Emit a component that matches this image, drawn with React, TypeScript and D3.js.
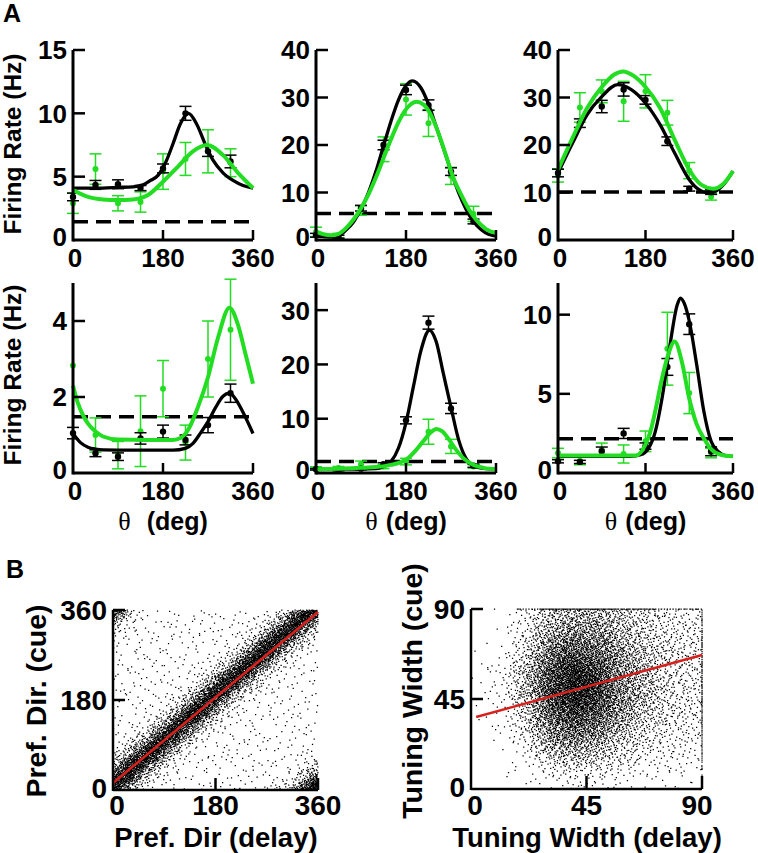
import React, { useMemo } from 'react';
import * as d3 from 'd3';

const FONT = "'Liberation Sans', Arial, Helvetica, sans-serif";
const GREEN = '#22dd22';
const RED = '#d8201c';

// ---------- panel A data ----------
const THETA = [0, 45, 90, 135, 180, 225, 270, 315];
const X_TICKS_A = [0, 180, 360];

const p1BlackMean = [3.4, 4.35, 4.4, 4.1, 5.65, 10.0, 7.0, 6.2];
const p1BlackSem = [0.3, 0.35, 0.35, 0.2, 0.35, 0.55, 0.4, 0.5];
const p1GreenMean = [2.9, 5.6, 2.9, 3.0, 5.4, 6.4, 7.0, 6.1];
const p1GreenSem = [0.8, 1.2, 0.6, 0.8, 1.4, 1.3, 1.7, 1.1];
const p1BlackFit = [[0, 4.1], [30, 4.1], [60, 4.1], [90, 4.15], [120, 4.2], [140, 4.35], [155, 4.7], [170, 5.1], [185, 6.1], [200, 7.6], [215, 9.2], [231, 10.0], [248, 9.1], [265, 7.5], [280, 6.3], [300, 5.3], [320, 4.7], [340, 4.3], [360, 4.1]];
const p1GreenFit = [[0, 3.95], [30, 3.4], [60, 3.2], [90, 3.15], [120, 3.2], [150, 3.55], [180, 4.6], [210, 5.8], [240, 7.0], [268, 7.5], [300, 6.7], [330, 5.3], [360, 4.1]];

const p2BlackMean = [1.0, 0.7, 6.7, 20.0, 31.6, 28.4, 14.4, 3.9];
const p2BlackSem = [0.4, 0.3, 0.6, 1.0, 1.0, 1.1, 0.8, 0.5];
const p2GreenMean = [1.7, 0.9, 6.2, 19.1, 29.6, 24.6, 13.5, 5.5];
const p2GreenSem = [1.0, 0.5, 1.0, 2.6, 3.3, 2.8, 1.8, 1.6];
const p2BlackFit = [[0, 1.05], [15, 0.7], [30, 0.6], [45, 0.9], [60, 2.1], [75, 3.8], [90, 6.5], [105, 10.0], [120, 14.5], [135, 19.8], [150, 25.0], [165, 29.5], [180, 32.5], [193, 33.5], [210, 32.0], [225, 28.6], [240, 24.0], [255, 19.3], [270, 14.5], [285, 10.0], [300, 6.5], [315, 3.9], [330, 2.2], [345, 1.2], [360, 0.8]];
const p2GreenFit = [[0, 1.75], [15, 1.2], [30, 1.0], [45, 1.3], [60, 2.5], [75, 4.3], [90, 6.7], [105, 9.6], [120, 13.2], [135, 17.2], [150, 21.2], [165, 24.8], [180, 27.5], [201, 29.1], [215, 28.5], [230, 26.3], [245, 22.5], [260, 17.8], [275, 13.0], [290, 9.6], [305, 6.6], [320, 4.3], [340, 2.3], [360, 1.5]];

const p3BlackMean = [14.1, 24.6, 28.1, 31.7, 29.5, 20.8, 10.8, 10.1];
const p3BlackSem = [0.8, 0.9, 1.3, 1.4, 0.9, 0.9, 0.5, 0.5];
const p3GreenMean = [13.6, 27.9, 31.3, 29.2, 31.3, 26.8, 14.6, 9.1];
const p3GreenSem = [1.4, 3.1, 2.4, 4.2, 3.5, 2.6, 1.7, 0.7];
const p3BlackFit = [[0, 14.1], [30, 20.4], [60, 26.4], [90, 30.2], [123, 32.7], [150, 31.7], [180, 28.8], [210, 24.3], [240, 18.3], [270, 12.7], [290, 10.6], [305, 10.0], [320, 10.1], [340, 11.6], [360, 14.5]];
const p3GreenFit = [[0, 14.8], [30, 21.5], [60, 27.8], [90, 32.2], [115, 34.8], [134, 35.5], [155, 34.6], [180, 32.2], [210, 27.8], [240, 21.1], [270, 14.8], [295, 11.6], [319, 10.8], [340, 11.8], [360, 14.5]];

const p4BlackMean = [1.05, 0.52, 0.43, 0.91, 1.09, 0.87, 1.26, 2.1];
const p4BlackSem = [0.15, 0.09, 0.1, 0.15, 0.17, 0.13, 0.2, 0.24];
const p4GreenMean = [2.83, 1.0, 0.47, 1.1, 2.22, 0.8, 3.0, 3.77];
const p4GreenSem = [0, 0.45, 0.36, 0.93, 0.74, 0.46, 1.0, 1.33];
const p4BlackFit = [[0, 1.04], [15, 0.8], [30, 0.68], [45, 0.63], [60, 0.61], [120, 0.6], [200, 0.6], [225, 0.65], [240, 0.78], [255, 1.05], [270, 1.35], [285, 1.72], [300, 2.02], [313, 2.1], [325, 1.95], [340, 1.6], [360, 1.04]];
const p4GreenFit = [[0, 2.3], [10, 1.83], [20, 1.52], [30, 1.3], [45, 1.09], [60, 0.96], [90, 0.88], [150, 0.87], [200, 0.87], [215, 0.92], [230, 1.13], [250, 1.74], [270, 2.52], [290, 3.56], [313, 4.35], [330, 3.9], [345, 3.13], [360, 2.35]];

const p5BlackMean = [0.7, 0.55, 0.8, 1.6, 9.7, 27.7, 11.9, 1.35];
const p5BlackSem = [0.15, 0.15, 0.2, 0.3, 0.65, 1.2, 0.95, 0.3];
const p5GreenMean = [0.85, 0.9, 1.6, 1.2, 2.1, 7.6, 4.9, 1.2];
const p5GreenSem = [0.3, 0.3, 0.6, 0.4, 0.6, 2.3, 1.3, 0.3];
const p5BlackFit = [[0, 0.7], [60, 0.7], [120, 0.8], [135, 1.2], [150, 2.1], [165, 4.6], [180, 9.3], [195, 16.0], [210, 22.6], [227, 26.3], [240, 24.3], [255, 18.2], [270, 12.1], [285, 6.2], [300, 2.7], [320, 1.1], [340, 0.8], [360, 0.72]];
const p5GreenFit = [[0, 0.7], [45, 0.8], [90, 0.95], [120, 1.1], [150, 1.5], [170, 2.0], [185, 2.8], [200, 4.2], [215, 5.9], [230, 7.5], [241, 8.1], [252, 7.7], [265, 6.3], [280, 4.3], [295, 2.7], [315, 1.5], [335, 0.95], [360, 0.7]];

const p6BlackMean = [0.74, 0.7, 1.37, 2.5, 1.7, 6.7, 9.4, 1.37];
const p6BlackSem = [0.1, 0.1, 0.27, 0.32, 0.2, 0.53, 0.65, 0.28];
const p6GreenMean = [1.26, 0.78, 1.47, 1.2, 2.0, 7.85, 5.05, 1.26];
const p6GreenSem = [0.3, 0.26, 0.42, 0.57, 0.65, 2.3, 1.3, 0.3];
const p6BlackFit = [[0, 1.05], [150, 1.05], [170, 1.15], [185, 1.5], [200, 2.6], [215, 4.9], [230, 8.0], [245, 10.6], [252, 11.05], [260, 10.7], [270, 9.6], [285, 6.9], [300, 3.9], [315, 2.0], [330, 1.35], [345, 1.1], [360, 1.05]];
const p6GreenFit = [[0, 1.1], [160, 1.1], [180, 1.8], [190, 2.6], [200, 3.9], [212, 5.7], [225, 7.3], [240, 8.3], [255, 7.0], [270, 4.7], [285, 3.1], [300, 2.2], [315, 1.5], [335, 1.15], [360, 1.05]];

const baselines = [1.45, 5.6, 10.1, 1.48, 2.1, 2.17];
const yMaxes = [15, 40, 40, 5, 35, 12];
const yTickSets = [[0, 5, 10, 15], [0, 10, 20, 30, 40], [0, 10, 20, 30, 40], [0, 2, 4], [0, 10, 20, 30], [0, 5, 10]];

// ---------- panel B data ----------
// left: counts per 10 deg bin of (cue - delay) offset, bins centred at -175..175
const offsetCounts = [
  20, 20, 20, 20, 20, 20, 20, 20, 20, 20, 25, 35, 55, 90, 150, 260, 480, 780, 1000,
  1000, 780, 480, 260, 150, 90, 55, 35, 25, 20, 20, 20, 20, 20, 20, 20, 20,
];
const prefFit = [[0, 14], [360, 356]];

// right: counts per 9x9 deg cell, rows from top (81-90) to bottom (0-9)
const widthGrid = [
  [0, 2, 25, 80, 100, 95, 68, 45, 32, 25],
  [0, 4, 38, 115, 160, 140, 90, 55, 38, 30],
  [1, 8, 55, 175, 250, 200, 120, 68, 42, 32],
  [3, 15, 80, 240, 360, 270, 145, 78, 45, 32],
  [4, 18, 90, 280, 400, 300, 155, 80, 46, 30],
  [3, 14, 72, 235, 330, 240, 130, 70, 40, 28],
  [1, 8, 48, 180, 240, 170, 95, 52, 32, 25],
  [0, 3, 25, 105, 130, 100, 60, 36, 25, 20],
  [0, 1, 10, 45, 60, 48, 32, 20, 15, 12],
  [0, 0, 3, 10, 15, 12, 8, 6, 5, 4],
];
const topEdgeCounts = [0, 1, 10, 18, 20, 20, 18, 16, 14, 12];
const rightEdgeCounts = [5, 8, 12, 14, 15, 15, 14, 12, 12, 10];
const widthFit = [[2, 36], [90, 67]];

const panels = [
  { bm: p1BlackMean, bs: p1BlackSem, gm: p1GreenMean, gs: p1GreenSem, bf: p1BlackFit, gf: p1GreenFit },
  { bm: p2BlackMean, bs: p2BlackSem, gm: p2GreenMean, gs: p2GreenSem, bf: p2BlackFit, gf: p2GreenFit },
  { bm: p3BlackMean, bs: p3BlackSem, gm: p3GreenMean, gs: p3GreenSem, bf: p3BlackFit, gf: p3GreenFit },
  { bm: p4BlackMean, bs: p4BlackSem, gm: p4GreenMean, gs: p4GreenSem, bf: p4BlackFit, gf: p4GreenFit },
  { bm: p5BlackMean, bs: p5BlackSem, gm: p5GreenMean, gs: p5GreenSem, bf: p5BlackFit, gf: p5GreenFit },
  { bm: p6BlackMean, bs: p6BlackSem, gm: p6GreenMean, gs: p6GreenSem, bf: p6BlackFit, gf: p6GreenFit },
];

const COLS = [[73, 253], [316, 496], [558, 733]];
const ROWS = [[240, 50], [473, 283]];

// deterministic low-discrepancy sequence for laying out the dense clouds
const halton = (i: number, b: number) => {
  let f = 1, r = 0;
  while (i > 0) {
    f /= b;
    r += f * (i % b);
    i = Math.floor(i / b);
  }
  return r;
};

const ErrorBars = ({ x, y, mean, sem, color }) => (
  <g stroke={color} strokeWidth={1.5}>
    {THETA.map((t, i) => {
      const cx = x(t);
      const lo = y(mean[i] - sem[i]);
      const hi = y(mean[i] + sem[i]);
      if (sem[i] === 0) return null;
      return (
        <g key={i}>
          <line x1={cx} x2={cx} y1={lo} y2={hi} />
          <line x1={cx - 6} x2={cx + 6} y1={lo} y2={lo} />
          <line x1={cx - 6} x2={cx + 6} y1={hi} y2={hi} />
        </g>
      );
    })}
  </g>
);

const TuningPanel = ({ idx }) => {
  const p = panels[idx];
  const [x0, x1] = COLS[idx % 3];
  const [y0, yTop] = ROWS[Math.floor(idx / 3)];
  const x = d3.scaleLinear().domain([0, 360]).range([x0, x1]);
  const y = d3.scaleLinear().domain([0, yMaxes[idx]]).range([y0, yTop]);
  const line = d3.line<number[]>().x(d => x(d[0])).y(d => y(d[1])).curve(d3.curveMonotoneX);
  const bottomRow = idx >= 3;
  return (
    <g>
      <line x1={x(0)} x2={x(360)} y1={y(baselines[idx])} y2={y(baselines[idx])}
        stroke="#000" strokeWidth={3.5} strokeDasharray="15,8" />
      <ErrorBars x={x} y={y} mean={p.gm} sem={p.gs} color={GREEN} />
      {THETA.map((t, i) => <circle key={i} cx={x(t)} cy={y(p.gm[i])} r={3} fill={GREEN} />)}
      <ErrorBars x={x} y={y} mean={p.bm} sem={p.bs} color="#000" />
      {THETA.map((t, i) => <circle key={i} cx={x(t)} cy={y(p.bm[i])} r={3.2} fill="#000" />)}
      <path d={line(p.bf)} fill="none" stroke="#000" strokeWidth={3.3} />
      <path d={line(p.gf)} fill="none" stroke={GREEN} strokeWidth={4} />
      {/* axes */}
      <g stroke="#000" strokeWidth={3} fill="none">
        <line x1={x0} x2={x0} y1={y0 + 1.5} y2={y(yMaxes[idx])} />
        <line x1={x0} x2={x1} y1={y0} y2={y0} />
        {yTickSets[idx].filter(v => v > 0).map(v => (
          <line key={v} x1={x0} x2={x0 + 12} y1={y(v)} y2={y(v)} strokeWidth={2.5} />
        ))}
        {X_TICKS_A.filter(v => v > 0).map(v => (
          <line key={v} x1={x(v)} x2={x(v)} y1={y0} y2={y0 - 10} strokeWidth={2.5} />
        ))}
      </g>
      <g fontFamily={FONT} fontWeight="bold" fontSize={26} fill="#000">
        {yTickSets[idx].map(v => (
          <text key={v} x={x0 - 6} y={v === 0 ? y(v) - 3 : y(v)} dy="0.36em" textAnchor="end">{v}</text>
        ))}
        {X_TICKS_A.map(v => (
          <text key={v} x={v === 0 ? x(v) + 2 : x(v)} y={y0 + 27} textAnchor="middle">{v}</text>
        ))}
      </g>
      {bottomRow && (
        <text x={(x0 + x1) / 2} y={530} textAnchor="middle" fontFamily={FONT} fontWeight="bold" fontSize={25}>
          <tspan fontFamily="'Liberation Serif', 'DejaVu Serif', serif" fontWeight="normal" fontSize={26}>θ</tspan>
          <tspan dx={idx === 3 ? 16 : 8}>(deg)</tspan>
        </text>
      )}
    </g>
  );
};

const dotsPath = (pts: number[][]) =>
  pts.map(([px, py]) => `M${px.toFixed(1)},${py.toFixed(1)}h1.25v1.25h-1.25z`).join('');

const PrefScatter = () => {
  const x = d3.scaleLinear().domain([0, 360]).range([113, 318]);
  const y = d3.scaleLinear().domain([0, 360]).range([790, 610]);
  const d = useMemo(() => {
    const total = d3.sum(offsetCounts);
    const pmax = d3.max(offsetCounts);
    const wrap = (v: number) => ((((v + 180) % 360) + 360) % 360) - 180;
    const dens = (off: number) => {
      const pos = (off + 175) / 10;
      const i0 = Math.floor(pos);
      const f = pos - i0;
      const a = offsetCounts[(i0 + 36) % 36];
      const b = offsetCounts[(i0 + 1 + 36) % 36];
      return a + (b - a) * f;
    };
    const pts: number[][] = [];
    let k = 1;
    while (pts.length < total && k < 200000) {
      const u = halton(k, 2) * 360;
      const v = halton(k, 3) * 360;
      if (halton(k, 5) * pmax < dens(wrap(v - u))) pts.push([x(u) - 0.6, y(v) - 0.6]);
      k++;
    }
    return dotsPath(pts);
  }, []);
  return (
    <g>
      <path d={d} fill="#000" />
      <path d={d3.line<number[]>().x(p => x(p[0])).y(p => y(p[1]))(prefFit)} stroke={RED} strokeWidth={2.5} fill="none" />
      <g stroke="#000" strokeWidth={2.5}>
        <line x1={113} x2={113} y1={791} y2={610} />
        <line x1={113} x2={318} y1={790} y2={790} />
        {[180, 360].map(v => <line key={'y' + v} x1={113} x2={125} y1={y(v)} y2={y(v)} />)}
        {[180, 360].map(v => <line key={'x' + v} x1={x(v)} x2={x(v)} y1={790} y2={778} />)}
      </g>
      <g fontFamily={FONT} fontWeight="bold" fontSize={28}>
        {[0, 180, 360].map(v => <text key={'yl' + v} x={107} y={v === 0 ? y(v) - 2 : y(v)} dy="0.36em" textAnchor="end">{v}</text>)}
        {[0, 180, 360].map(v => <text key={'xl' + v} x={v === 0 ? x(v) + 4 : x(v)} y={815} textAnchor="middle">{v}</text>)}
      </g>
      <text fontFamily={FONT} fontWeight="bold" fontSize={27.5} textAnchor="middle" x={216} y={847}>Pref. Dir (delay)</text>
      <text fontFamily={FONT} fontWeight="bold" fontSize={28.5} textAnchor="middle" transform="translate(46,701) rotate(-90)">Pref. Dir. (cue)</text>
    </g>
  );
};

const WidthScatter = () => {
  const x = d3.scaleLinear().domain([0, 90]).range([471, 702]);
  const y = d3.scaleLinear().domain([0, 90]).range([789, 609]);
  const d = useMemo(() => {
    const rows = widthGrid.slice().reverse(); // rows[0] = 0-9
    const total = d3.sum(widthGrid.flat());
    const gmax = d3.max(widthGrid.flat());
    const cell = (r: number, c: number) => rows[Math.max(0, Math.min(9, r))][Math.max(0, Math.min(9, c))];
    const dens = (u: number, v: number) => {
      const cu = u / 9 - 0.5, cv = v / 9 - 0.5;
      const c0 = Math.floor(cu), r0 = Math.floor(cv);
      const fu = cu - c0, fv = cv - r0;
      const a = cell(r0, c0) * (1 - fu) + cell(r0, c0 + 1) * fu;
      const b = cell(r0 + 1, c0) * (1 - fu) + cell(r0 + 1, c0 + 1) * fu;
      return a * (1 - fv) + b * fv;
    };
    const pts: number[][] = [];
    let k = 1;
    while (pts.length < total && k < 300000) {
      const u = halton(k, 2) * 90;
      const v = halton(k, 3) * 90;
      if (halton(k, 5) * gmax < dens(u, v)) pts.push([x(u) - 0.6, y(v) - 0.6]);
      k++;
    }
    topEdgeCounts.forEach((n, c) => {
      for (let i = 1; i <= n; i++) pts.push([x(c * 9 + 9 * halton(i + c * 31, 2)) - 0.6, y(90) - 0.6]);
    });
    rightEdgeCounts.forEach((n, r) => {
      for (let i = 1; i <= n; i++) pts.push([x(90) - 0.6, y(r * 9 + 9 * halton(i + r * 37, 3)) - 0.6]);
    });
    return dotsPath(pts);
  }, []);
  return (
    <g>
      <path d={d} fill="#000" />
      <path d={d3.line<number[]>().x(p => x(p[0])).y(p => y(p[1]))(widthFit)} stroke={RED} strokeWidth={2.5} fill="none" />
      <g stroke="#000" strokeWidth={2.5}>
        <line x1={471} x2={471} y1={790} y2={609} />
        <line x1={471} x2={702} y1={789} y2={789} />
        {[45, 90].map(v => <line key={'y' + v} x1={471} x2={483} y1={y(v)} y2={y(v)} />)}
        {[45, 90].map(v => <line key={'x' + v} x1={x(v)} x2={x(v)} y1={789} y2={776} />)}
      </g>
      <g fontFamily={FONT} fontWeight="bold" fontSize={28}>
        {[0, 45, 90].map(v => <text key={'yl' + v} x={465} y={v === 0 ? y(v) - 2 : y(v)} dy="0.36em" textAnchor="end">{v}</text>)}
        {[0, 45, 90].map(v => <text key={'xl' + v} x={v === 90 ? x(v) - 5 : v === 0 ? x(v) + 4 : x(v)} y={815} textAnchor="middle">{v}</text>)}
      </g>
      <text fontFamily={FONT} fontWeight="bold" fontSize={27.5} textAnchor="middle" x={587} y={847}>Tuning Width (delay)</text>
      <text fontFamily={FONT} fontWeight="bold" fontSize={28.5} textAnchor="middle" transform="translate(422,691) rotate(-90)">Tuning Width (cue)</text>
    </g>
  );
};

export default function App() {
  return (
    <svg width={758} height={853} style={{ position: 'absolute', left: 0, top: 0, background: '#fff' }}>
      <rect width={758} height={853} fill="#fff" />
      <text x={3} y={22} fontFamily={FONT} fontWeight="bold" fontSize={25}>A</text>
      <text x={6} y={578} fontFamily={FONT} fontWeight="bold" fontSize={25}>B</text>
      <g fontFamily={FONT} fontWeight="bold" fontSize={24.5} textAnchor="middle">
        <text transform="translate(21,144) rotate(-90)">Firing Rate (Hz)</text>
        <text transform="translate(21,375) rotate(-90)">Firing Rate (Hz)</text>
      </g>
      {panels.map((_, i) => <TuningPanel key={i} idx={i} />)}
      <PrefScatter />
      <WidthScatter />
    </svg>
  );
}
